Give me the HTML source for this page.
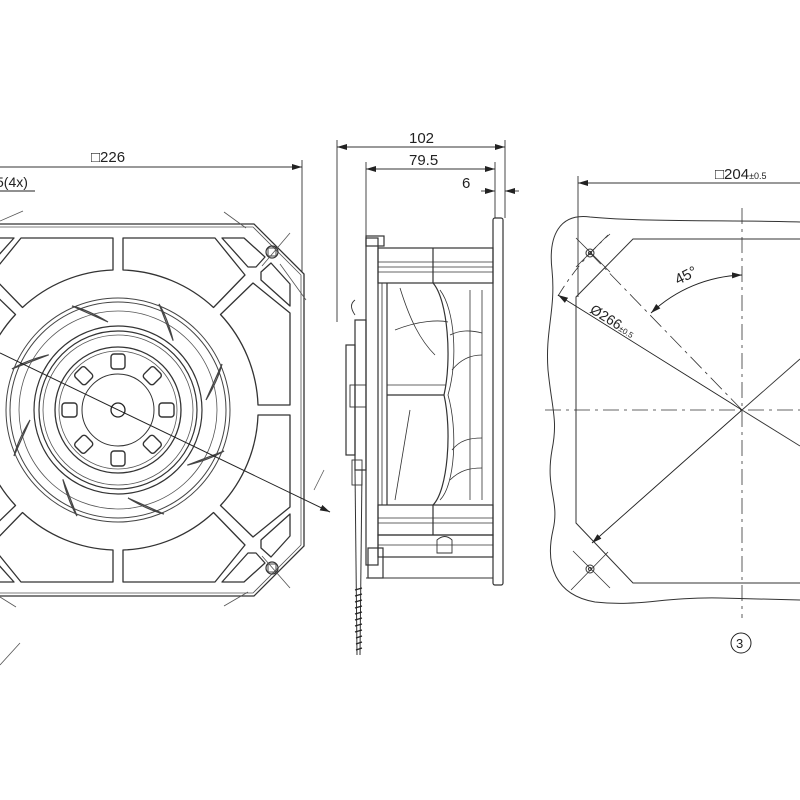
<!DOCTYPE html>
<html><head><meta charset="utf-8"><style>
html,body{margin:0;padding:0;background:#fff;}
svg{display:block;}
text{font-family:"Liberation Sans",sans-serif;fill:#222;}
</style></head><body>
<svg width="800" height="800" viewBox="0 0 800 800" xmlns="http://www.w3.org/2000/svg">
<defs>
<marker id="ar" viewBox="0 0 10 6" refX="10" refY="3" markerWidth="10" markerHeight="6" orient="auto-start-reverse" markerUnits="userSpaceOnUse"><path d="M0,0 L10,3 L0,6 Z" fill="#222"/></marker>
<g id="oct" fill="none" stroke="#333" stroke-width="1.3" stroke-linejoin="round">
<path d="M140,-5 L172,-5 L172,-97 L135,-127 L102.5,-95.5 A140,140 0 0 1 140,-5 Z"/>
<path d="M143,-130 L172,-104 L172,-126 L153,-147 L143,-138 Z"/>
</g>
<g id="blade" fill="none" stroke="#444" stroke-width="1.2">
<path d="M88,-10 Q100,-30 104,-46 Q96,-28 88,-10 Z"/>
</g>
<g id="pocket" fill="none" stroke="#333" stroke-width="1.4">
<rect x="-7" y="-56" width="14" height="15" rx="3"/>
</g>
</defs>

<!-- LEFT VIEW -->
<g transform="translate(118,410)">
<path d="M-186,-186 L136,-186 L186,-136 L186,136 L136,186 L-186,186 Z" fill="none" stroke="#333" stroke-width="1.3"/>
<path d="M-183,-183 L135,-183 L183,-135 L183,135 L135,183 L-183,183 Z" fill="none" stroke="#555" stroke-width="0.8"/>
<use href="#oct" transform="matrix(1,0,0,1,0,0)"/>
<use href="#oct" transform="matrix(1,0,0,-1,0,0)"/>
<use href="#oct" transform="matrix(-1,0,0,1,0,0)"/>
<use href="#oct" transform="matrix(-1,0,0,-1,0,0)"/>
<use href="#oct" transform="matrix(0,1,1,0,0,0)"/>
<use href="#oct" transform="matrix(0,-1,1,0,0,0)"/>
<use href="#oct" transform="matrix(0,1,-1,0,0,0)"/>
<use href="#oct" transform="matrix(0,-1,-1,0,0,0)"/>
<circle r="112" fill="none" stroke="#444" stroke-width="1"/>
<circle r="108" fill="none" stroke="#444" stroke-width="1"/>
<circle r="99" fill="none" stroke="#555" stroke-width="0.8"/>
<use href="#blade" transform="rotate(0)"/><use href="#blade" transform="rotate(45)"/>
<use href="#blade" transform="rotate(90)"/><use href="#blade" transform="rotate(135)"/>
<use href="#blade" transform="rotate(180)"/><use href="#blade" transform="rotate(225)"/>
<use href="#blade" transform="rotate(270)"/><use href="#blade" transform="rotate(315)"/>
<circle r="84" fill="none" stroke="#333" stroke-width="1.2"/>
<circle r="79" fill="none" stroke="#333" stroke-width="1.2"/>
<circle r="75" fill="none" stroke="#555" stroke-width="0.8"/>
<circle r="63" fill="none" stroke="#333" stroke-width="1.3"/>
<circle r="59" fill="none" stroke="#555" stroke-width="0.8"/>
<circle r="36" fill="none" stroke="#333" stroke-width="1"/>
<use href="#pocket" transform="rotate(0)"/><use href="#pocket" transform="rotate(45)"/>
<use href="#pocket" transform="rotate(90)"/><use href="#pocket" transform="rotate(135)"/>
<use href="#pocket" transform="rotate(180)"/><use href="#pocket" transform="rotate(225)"/>
<use href="#pocket" transform="rotate(270)"/><use href="#pocket" transform="rotate(315)"/>
<circle r="7" fill="none" stroke="#222" stroke-width="1.3"/>
<circle cx="154" cy="-158" r="6" fill="none" stroke="#333" stroke-width="1.2"/>
<rect x="150" y="-162" width="8" height="8" fill="none" stroke="#333" stroke-width="0.9"/>
<circle cx="154" cy="158" r="6" fill="none" stroke="#333" stroke-width="1.2"/>
<rect x="150" y="154" width="8" height="8" fill="none" stroke="#333" stroke-width="0.9"/>
</g>
<!-- corner crosshair lines / PCD fragments -->
<line x1="224" y1="212" x2="246" y2="228" stroke="#555" stroke-width="0.8"/>
<line x1="262" y1="266" x2="290" y2="233" stroke="#555" stroke-width="0.8"/>
<line x1="280" y1="264" x2="306" y2="300" stroke="#555" stroke-width="0.8"/>
<line x1="0" y1="221" x2="23" y2="211" stroke="#555" stroke-width="0.8"/>
<line x1="224" y1="606" x2="248" y2="592" stroke="#555" stroke-width="0.8"/>
<line x1="262" y1="556" x2="290" y2="588" stroke="#555" stroke-width="0.8"/>
<line x1="0" y1="597" x2="16" y2="607" stroke="#555" stroke-width="0.8"/>
<line x1="314" y1="490" x2="324" y2="470" stroke="#555" stroke-width="0.8"/>
<line x1="0" y1="665" x2="20" y2="643" stroke="#555" stroke-width="0.8"/>
<!-- diameter line -->
<line x1="0" y1="353" x2="330" y2="512" stroke="#222" stroke-width="1" marker-end="url(#ar)"/>
<!-- dims left -->
<line x1="302" y1="160" x2="302" y2="272" stroke="#333" stroke-width="0.9"/>
<line x1="0" y1="167" x2="302" y2="167" stroke="#333" stroke-width="0.9" marker-end="url(#ar)"/>
<text x="91" y="162" font-size="15">□226</text>
<text x="-4" y="187" font-size="14">5(4x)</text>
<line x1="0" y1="191" x2="35" y2="191" stroke="#222" stroke-width="1"/>

<!-- SIDE VIEW -->
<g fill="none" stroke="#333" stroke-width="1.2">
<line x1="337" y1="140" x2="337" y2="322" stroke-width="0.9"/>
<line x1="366" y1="162" x2="366" y2="238" stroke-width="0.9"/>
<line x1="505" y1="140" x2="505" y2="218" stroke-width="0.9"/>
<line x1="495" y1="162" x2="495" y2="218" stroke-width="0.9"/>
<rect x="493" y="218" width="10" height="367" rx="2"/>
<rect x="366" y="238" width="12" height="327"/>
<rect x="366" y="236" width="18" height="10"/>
<rect x="378" y="248" width="115" height="35"/>
<line x1="378" y1="262" x2="493" y2="262" stroke-width="0.8"/>
<line x1="378" y1="267" x2="493" y2="267" stroke-width="0.8"/>
<line x1="378" y1="272" x2="493" y2="272" stroke-width="0.8"/>
<line x1="433" y1="248" x2="433" y2="283"/>
<line x1="387" y1="283" x2="387" y2="505"/>
<line x1="382" y1="283" x2="382" y2="505" stroke-width="0.8"/>
<path d="M433,283 C448,300 452,360 444,395 C452,430 448,490 433,505"/>
<path d="M440,290 C455,310 458,360 448,395 C458,430 455,485 440,500" stroke-width="0.8"/>
<line x1="387" y1="395" x2="444" y2="395"/>
<line x1="387" y1="385" x2="446" y2="385" stroke-width="0.8"/>
<path d="M400,288 C410,320 420,340 435,355" stroke-width="0.8"/>
<path d="M395,330 C420,320 440,320 448,322" stroke-width="0.8"/>
<path d="M395,500 C400,470 405,440 410,410" stroke-width="0.8"/>
<path d="M450,335 C460,330 470,330 482,333" stroke-width="0.8"/>
<path d="M452,370 C460,360 470,355 482,355" stroke-width="0.8"/>
<path d="M452,450 C460,440 470,438 482,438" stroke-width="0.8"/>
<path d="M450,480 C460,470 470,468 482,468" stroke-width="0.8"/>
<line x1="482" y1="290" x2="482" y2="500" stroke-width="0.8"/>
<line x1="470" y1="290" x2="470" y2="500" stroke-width="0.8"/>
<rect x="378" y="505" width="115" height="30"/>
<line x1="378" y1="518" x2="493" y2="518" stroke-width="0.8"/>
<line x1="378" y1="523" x2="493" y2="523" stroke-width="0.8"/>
<line x1="433" y1="505" x2="433" y2="535"/>
<rect x="378" y="535" width="115" height="22"/>
<line x1="378" y1="545" x2="493" y2="545" stroke-width="0.8"/>
<path d="M437,540 Q445,533 452,540 L452,553 L437,553 Z" stroke-width="0.9"/>
<rect x="368" y="548" width="15" height="30"/>
<line x1="366" y1="578" x2="493" y2="578" stroke-width="0.9"/>
<rect x="355" y="320" width="11" height="150"/>
<rect x="346" y="345" width="9" height="110"/>
<rect x="350" y="385" width="16" height="22" stroke-width="0.9"/>
<path d="M355,300 Q348,305 355,315" stroke-width="0.9"/>
<rect x="352" y="460" width="10" height="25" stroke-width="0.9"/>
<line x1="362" y1="470" x2="360" y2="655" stroke-width="1"/>
<line x1="355" y1="470" x2="357" y2="655" stroke-width="1"/>
</g>
<path d="M355,590 l7,-2 M355,596 l7,-2 M355,602 l7,-2 M355,608 l7,-2 M355,614 l7,-2 M355,620 l7,-2 M355,626 l7,-2 M355,632 l7,-2 M356,638 l6,-2 M356,644 l6,-2 M356,650 l6,-2" stroke="#222" stroke-width="1.2"/>
<!-- side dims -->
<line x1="337" y1="147" x2="505" y2="147" stroke="#333" stroke-width="0.9" marker-start="url(#ar)" marker-end="url(#ar)"/>
<text x="409" y="143" font-size="15">102</text>
<line x1="366" y1="169" x2="495" y2="169" stroke="#333" stroke-width="0.9" marker-start="url(#ar)" marker-end="url(#ar)"/>
<text x="409" y="165" font-size="15">79.5</text>
<line x1="481" y1="191" x2="495" y2="191" stroke="#333" stroke-width="0.9" marker-end="url(#ar)"/>
<line x1="519" y1="191" x2="505" y2="191" stroke="#333" stroke-width="0.9" marker-end="url(#ar)"/>
<text x="462" y="188" font-size="15">6</text>

<!-- RIGHT VIEW -->
<g fill="none" stroke="#333" stroke-width="1">
<path d="M800,222 C740,220 640,222 590,217 C560,213 548,235 552,270 C556,310 545,330 548,370 C552,410 558,420 552,450 C545,490 560,500 553,530 C545,565 555,595 595,602 C640,607 660,597 720,598 C760,599 790,600 800,600"/>
<path d="M800,239 L633,239 L576,297 L576,523 L633,583 L800,583"/>
<line x1="578" y1="176" x2="578" y2="297" stroke-width="0.9"/>
<circle cx="590" cy="253" r="4"/><circle cx="590" cy="253" r="1.5"/>
<circle cx="590" cy="569" r="4"/><circle cx="590" cy="569" r="1.5"/>
<line x1="576" y1="238" x2="610" y2="272" stroke-width="0.8"/>
<line x1="576" y1="267" x2="608" y2="235" stroke-width="0.8"/>
<line x1="571" y1="590" x2="608" y2="552" stroke-width="0.8"/>
<line x1="573" y1="551" x2="610" y2="588" stroke-width="0.8"/>
<path d="M558,296 A260,260 0 0 1 610,234" stroke-dasharray="12 5 3 5" stroke-width="0.8"/>
<path d="M742,208 L742,618" stroke-dasharray="16 5 3 5" stroke-width="0.8"/>
<path d="M545,410 L800,410" stroke-dasharray="16 5 3 5" stroke-width="0.8"/>
<path d="M742,410 L590,253" stroke-dasharray="16 5 3 5" stroke-width="0.8"/>
<line x1="742" y1="410" x2="800" y2="446" stroke-width="0.9"/>
<line x1="742" y1="410" x2="800" y2="359" stroke-width="0.9"/>
</g>
<line x1="742" y1="410" x2="558" y2="295" stroke="#222" stroke-width="0.9" marker-end="url(#ar)"/>
<line x1="742" y1="410" x2="592" y2="543" stroke="#222" stroke-width="0.9" marker-end="url(#ar)"/>
<path d="M651,313 A140,140 0 0 1 742,275" fill="none" stroke="#222" stroke-width="0.9" marker-start="url(#ar)" marker-end="url(#ar)"/>
<line x1="578" y1="183" x2="800" y2="183" stroke="#333" stroke-width="0.9" marker-start="url(#ar)"/>
<text x="715" y="179" font-size="15">□204<tspan font-size="9">±0.5</tspan></text>
<text x="0" y="0" font-size="15" transform="translate(678,285) rotate(-27)">45°</text>
<text x="0" y="0" font-size="14" transform="translate(589,312) rotate(32)">Ø266<tspan font-size="8">±0.5</tspan></text>
<circle cx="741" cy="643" r="10" fill="none" stroke="#222" stroke-width="1"/>
<text x="736" y="648" font-size="13">3</text>
</svg>
</body></html>
